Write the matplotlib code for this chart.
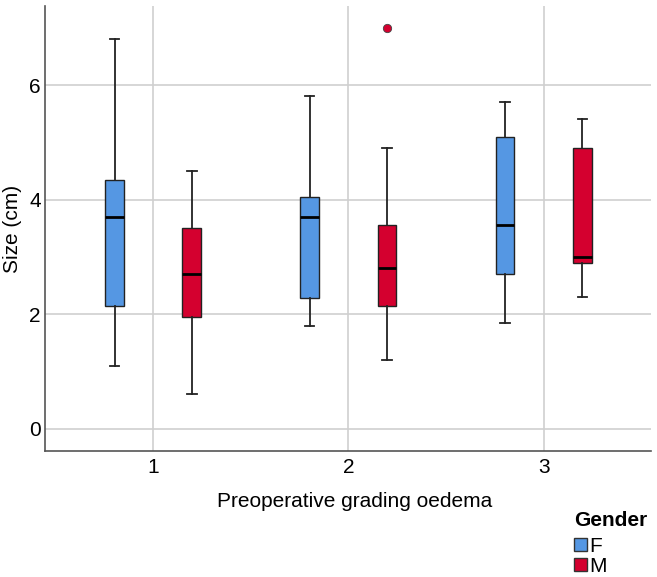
import numpy as np
import matplotlib.pyplot as plt
from matplotlib.patches import Patch

plt.rcParams['font.family'] = ['Liberation Sans', 'DejaVu Sans']

# data (Size in cm)
grades = [1, 2, 3]
genders = ['F', 'M']
colors = {'F': '#5597E3', 'M': '#D4002F'}

f_whislo = [1.10, 1.80, 1.85]
f_q1 = [2.15, 2.28, 2.70]
f_med = [3.70, 3.70, 3.55]
f_q3 = [4.35, 4.05, 5.10]
f_whishi = [6.80, 5.81, 5.71]
f_fliers = [[], [], []]

m_whislo = [0.60, 1.20, 2.30]
m_q1 = [1.95, 2.15, 2.90]
m_med = [2.70, 2.80, 3.00]
m_q3 = [3.50, 3.55, 4.90]
m_whishi = [4.50, 4.90, 5.40]
m_fliers = [[], [7.00], []]

series = {
    'F': (f_whislo, f_q1, f_med, f_q3, f_whishi, f_fliers),
    'M': (m_whislo, m_q1, m_med, m_q3, m_whishi, m_fliers),
}

fig = plt.figure(figsize=(6.57, 5.77), dpi=100)
ax = fig.add_axes([0.0685, 0.2184, 0.9225, 0.7712])

offsets = {'F': -0.198, 'M': 0.198}
for g in genders:
    lo, q1, med, q3, hi, fl = series[g]
    stats = []
    for i in range(len(grades)):
        stats.append({'whislo': lo[i], 'q1': q1[i], 'med': med[i], 'q3': q3[i],
                      'whishi': hi[i], 'fliers': fl[i]})
    pos = [x + offsets[g] for x in grades]
    ax.bxp(stats, positions=pos, widths=0.096, patch_artist=True, showfliers=True,
           boxprops=dict(facecolor=colors[g], edgecolor='#222222', linewidth=1),
           medianprops=dict(color='black', linewidth=2),
           whiskerprops=dict(color='#222222', linewidth=1.3),
           capprops=dict(color='#222222', linewidth=1.3),
           capwidths=0.048,
           flierprops=dict(marker='o', markerfacecolor=colors[g], markeredgecolor='#444444',
                           markersize=6, markeredgewidth=0.6),
           zorder=3)

ax.set_xlim(0.446, 3.55)
ax.set_ylim(-0.39, 7.38)
ax.set_xticks(grades)
ax.set_xticklabels([str(g) for g in grades])
ax.set_yticks([0, 2, 4, 6])
ax.tick_params(length=0, labelsize=15)
ax.tick_params(axis='x', pad=5)
ax.tick_params(axis='y', pad=3)
ax.grid(True, color='#cfcfcf', linewidth=1.2)
ax.set_axisbelow(True)
for s in ['top', 'right']:
    ax.spines[s].set_visible(False)
for s in ['left', 'bottom']:
    ax.spines[s].set_color('#555555')
    ax.spines[s].set_linewidth(1.2)

ax.set_xlabel('Preoperative grading oedema', fontsize=15)
ax.xaxis.set_label_coords(0.5116, -0.092)
ax.set_ylabel('Size (cm)', fontsize=15, labelpad=5)

# legend: title drawn separately so the gap below it matches
fig.text(0.8737, 1 - 511 / 577, 'Gender', fontsize=15, fontweight='bold', ha='left', va='top')
handles = [Patch(facecolor=colors[g], edgecolor='#333333', label=g) for g in genders]
leg = fig.legend(handles=handles, loc='upper left',
                 bbox_to_anchor=(0.874, 1 - 537 / 577), frameon=False, fontsize=15,
                 handlelength=0.6, handleheight=0.6, handletextpad=0.1,
                 labelspacing=0.05, borderpad=0, borderaxespad=0)

fig.savefig('out.png', dpi=100)
